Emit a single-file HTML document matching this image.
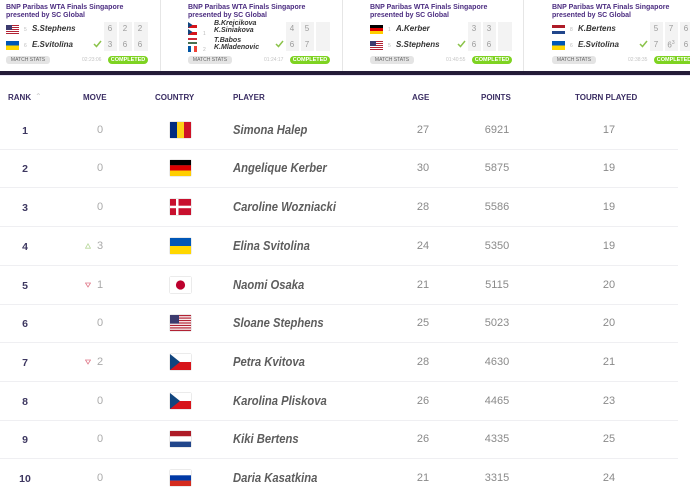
<!DOCTYPE html>
<html><head><meta charset="utf-8">
<style>
*{margin:0;padding:0;box-sizing:border-box}
body{width:690px;height:490px;overflow:hidden;background:#fff;font-family:"Liberation Sans",Arial,sans-serif;position:relative}
.a{position:absolute;white-space:nowrap}
.card{position:absolute;top:0;height:71px;width:182px}
.ttl{position:absolute;left:0;top:4px;font-size:7px;line-height:8px;font-weight:bold;color:#4b2c80;white-space:nowrap}
.fl{position:absolute;left:0;width:13px;height:9px}
.sd{position:absolute;left:18px;font-size:5px;color:#bbb}
.nm{position:absolute;left:26px;font-size:8px;font-weight:bold;font-style:italic;color:#333;white-space:nowrap}
.box{position:absolute;top:22px;height:29px;background:#f3f3f3}
.sc{position:absolute;font-size:8px;color:#9a9a9a;width:14px;text-align:center}
.ms{position:absolute;left:0;top:56px;width:44px;height:8px;background:#e4e4e4;border-radius:3px;font-size:5px;line-height:8px;color:#666;text-align:center}
.tm{position:absolute;left:76px;top:57px;font-size:5px;color:#c4c4c4}
.cp{position:absolute;left:102px;top:56px;width:40px;height:8px;background:#7ed321;border-radius:4px;font-size:5.5px;line-height:8px;color:#fff;font-weight:bold;text-align:center}
.vb{position:absolute;top:0;width:1px;height:71px;background:#e6e6e6}
.hd{position:absolute;top:93px;font-size:8px;font-weight:bold;color:#3a2d63;white-space:nowrap}
.row{position:absolute;left:0;width:690px;height:39px}
.rk{position:absolute;left:10px;width:30px;text-align:center;top:14px;font-size:10.5px;font-weight:bold;color:#3d3760}
.mv{position:absolute;left:94px;width:12px;text-align:center;top:13px;font-size:11px;color:#aaa}
.ar{position:absolute;left:85px;top:16px}
.fg{position:absolute;left:170px;top:11px;width:21px;height:16px;box-shadow:0 0 1px rgba(0,0,0,.4)}
.pn{position:absolute;left:233px;top:12px;font-size:12.5px;font-weight:bold;font-style:italic;color:#5d5d5d;white-space:nowrap;transform:scaleX(.9);transform-origin:left}
.n{position:absolute;top:13px;font-size:11px;color:#8a8a8a;text-align:center;width:40px}
.ln{position:absolute;left:0;bottom:0;width:678px;height:1px;background:#efeff2}
</style></head><body>

<!-- cards -->
<div class="vb" style="left:160px"></div>
<div class="vb" style="left:342px"></div>
<div class="vb" style="left:523px"></div>

<div class="card" style="left:6px">
 <div class="ttl">BNP Paribas WTA Finals Singapore<br>presented by SC Global</div>
 <svg class="fl" style="top:25px" viewBox="0 0 13 9"><rect width="13" height="9" fill="#fff"/><g fill="#b22234"><rect y="0" width="13" height="1"/><rect y="2" width="13" height="1"/><rect y="4" width="13" height="1"/><rect y="6" width="13" height="1"/><rect y="8" width="13" height="1"/></g><rect width="6" height="5" fill="#3c3b6e"/></svg>
 <div class="sd" style="top:27px">5</div><div class="nm" style="top:24px">S.Stephens</div>
 <svg class="fl" style="top:41px" viewBox="0 0 13 9"><rect width="13" height="4.5" fill="#0057b7"/><rect y="4.5" width="13" height="4.5" fill="#ffd700"/></svg>
 <div class="sd" style="top:43px">6</div><div class="nm" style="top:40px">E.Svitolina</div>
 <svg class="a" style="left:87px;top:40px" width="9" height="8" viewBox="0 0 9 8"><polyline points="1,4 3.5,6.5 8,1" fill="none" stroke="#8bc34a" stroke-width="1.5"/></svg>
 <div class="box" style="left:98px;width:13px"></div><div class="box" style="left:113px;width:13px"></div><div class="box" style="left:128px;width:14px"></div>
 <div class="sc" style="left:97px;top:24px">6</div><div class="sc" style="left:112px;top:24px">2</div><div class="sc" style="left:127px;top:24px">2</div>
 <div class="sc" style="left:97px;top:40px">3</div><div class="sc" style="left:112px;top:40px">6</div><div class="sc" style="left:127px;top:40px">6</div>
 <div class="ms">MATCH STATS</div><div class="tm">02:23:06</div><div class="cp">COMPLETED</div>
</div>

<div class="card" style="left:188px">
 <div class="ttl">BNP Paribas WTA Finals Singapore<br>presented by SC Global</div>
 <svg class="fl" style="top:22px;width:9px;height:6px" viewBox="0 0 9 6"><rect width="9" height="3" fill="#fff"/><rect y="3" width="9" height="3" fill="#d7141a"/><polygon points="0,0 4.5,3 0,6" fill="#11457e"/></svg>
 <svg class="fl" style="top:29px;width:9px;height:6px" viewBox="0 0 9 6"><rect width="9" height="3" fill="#fff"/><rect y="3" width="9" height="3" fill="#d7141a"/><polygon points="0,0 4.5,3 0,6" fill="#11457e"/></svg>
 <svg class="fl" style="top:38px;width:9px;height:6px" viewBox="0 0 9 6"><rect width="9" height="2" fill="#ce2939"/><rect y="2" width="9" height="2" fill="#fff"/><rect y="4" width="9" height="2" fill="#477050"/></svg>
 <svg class="fl" style="top:46px;width:9px;height:6px" viewBox="0 0 9 6"><rect width="3" height="6" fill="#0055a4"/><rect x="3" width="3" height="6" fill="#fff"/><rect x="6" width="3" height="6" fill="#ef4135"/></svg>
 <div class="sd" style="left:15px;top:31px">1</div><div class="sd" style="left:15px;top:47px">2</div>
 <div class="nm" style="left:26px;top:20px;font-size:7px;line-height:7px">B.Krejcikova<br>K.Siniakova</div>
 <div class="nm" style="left:26px;top:37px;font-size:7px;line-height:7px">T.Babos<br>K.Mladenovic</div>
 <svg class="a" style="left:87px;top:40px" width="9" height="8" viewBox="0 0 9 8"><polyline points="1,4 3.5,6.5 8,1" fill="none" stroke="#8bc34a" stroke-width="1.5"/></svg>
 <div class="box" style="left:98px;width:13px"></div><div class="box" style="left:113px;width:13px"></div><div class="box" style="left:128px;width:14px"></div>
 <div class="sc" style="left:97px;top:24px">4</div><div class="sc" style="left:112px;top:24px">5</div>
 <div class="sc" style="left:97px;top:40px">6</div><div class="sc" style="left:112px;top:40px">7</div>
 <div class="ms">MATCH STATS</div><div class="tm">01:24:17</div><div class="cp">COMPLETED</div>
</div>

<div class="card" style="left:370px">
 <div class="ttl">BNP Paribas WTA Finals Singapore<br>presented by SC Global</div>
 <svg class="fl" style="top:25px" viewBox="0 0 13 9"><rect width="13" height="3" fill="#000"/><rect y="3" width="13" height="3" fill="#dd0000"/><rect y="6" width="13" height="3" fill="#ffce00"/></svg>
 <div class="sd" style="top:27px">1</div><div class="nm" style="top:24px">A.Kerber</div>
 <svg class="fl" style="top:41px" viewBox="0 0 13 9"><rect width="13" height="9" fill="#fff"/><g fill="#b22234"><rect y="0" width="13" height="1"/><rect y="2" width="13" height="1"/><rect y="4" width="13" height="1"/><rect y="6" width="13" height="1"/><rect y="8" width="13" height="1"/></g><rect width="6" height="5" fill="#3c3b6e"/></svg>
 <div class="sd" style="top:43px">5</div><div class="nm" style="top:40px">S.Stephens</div>
 <svg class="a" style="left:87px;top:40px" width="9" height="8" viewBox="0 0 9 8"><polyline points="1,4 3.5,6.5 8,1" fill="none" stroke="#8bc34a" stroke-width="1.5"/></svg>
 <div class="box" style="left:98px;width:13px"></div><div class="box" style="left:113px;width:13px"></div><div class="box" style="left:128px;width:14px"></div>
 <div class="sc" style="left:97px;top:24px">3</div><div class="sc" style="left:112px;top:24px">3</div>
 <div class="sc" style="left:97px;top:40px">6</div><div class="sc" style="left:112px;top:40px">6</div>
 <div class="ms">MATCH STATS</div><div class="tm">01:40:55</div><div class="cp">COMPLETED</div>
</div>

<div class="card" style="left:552px">
 <div class="ttl">BNP Paribas WTA Finals Singapore<br>presented by SC Global</div>
 <svg class="fl" style="top:25px" viewBox="0 0 13 9"><rect width="13" height="3" fill="#ae1c28"/><rect y="3" width="13" height="3" fill="#fff"/><rect y="6" width="13" height="3" fill="#21468b"/></svg>
 <div class="sd" style="top:27px">8</div><div class="nm" style="top:24px">K.Bertens</div>
 <svg class="fl" style="top:41px" viewBox="0 0 13 9"><rect width="13" height="4.5" fill="#0057b7"/><rect y="4.5" width="13" height="4.5" fill="#ffd700"/></svg>
 <div class="sd" style="top:43px">6</div><div class="nm" style="top:40px">E.Svitolina</div>
 <svg class="a" style="left:87px;top:40px" width="9" height="8" viewBox="0 0 9 8"><polyline points="1,4 3.5,6.5 8,1" fill="none" stroke="#8bc34a" stroke-width="1.5"/></svg>
 <div class="box" style="left:98px;width:13px"></div><div class="box" style="left:113px;width:13px"></div><div class="box" style="left:128px;width:14px"></div>
 <div class="sc" style="left:97px;top:24px">5</div><div class="sc" style="left:112px;top:24px">7</div><div class="sc" style="left:127px;top:24px">6</div>
 <div class="sc" style="left:97px;top:40px">7</div><div class="sc" style="left:112px;top:40px">6<sup style="font-size:5px">3</sup></div><div class="sc" style="left:127px;top:40px">6</div>
 <div class="ms">MATCH STATS</div><div class="tm">02:38:35</div><div class="cp">COMPLETED</div>
</div>

<div class="a" style="left:0;top:71px;width:690px;height:4px;background:#241c38"></div>
<div class="a" style="left:0;top:75px;width:690px;height:1px;background:#e9e4f4"></div>

<!-- header -->
<div class="hd" style="left:8px">RANK</div>
<div class="hd" style="left:35px;color:#ccc;font-weight:normal;font-size:8px;top:92px">&#8963;</div>
<div class="hd" style="left:83px">MOVE</div>
<div class="hd" style="left:155px">COUNTRY</div>
<div class="hd" style="left:233px">PLAYER</div>
<div class="hd" style="left:412px">AGE</div>
<div class="hd" style="left:481px">POINTS</div>
<div class="hd" style="left:575px">TOURN PLAYED</div>

<!-- rows -->
<div class="row" style="top:110.7px"><div class="rk">1</div><div class="mv">0</div>
<svg class="fg" viewBox="0 0 21 16"><rect width="7" height="16" fill="#002b7f"/><rect x="7" width="7" height="16" fill="#fcd116"/><rect x="14" width="7" height="16" fill="#ce1126"/></svg>
<div class="pn">Simona Halep</div><div class="n" style="left:403px">27</div><div class="n" style="left:477px">6921</div><div class="n" style="left:589px">17</div><div class="ln"></div></div>

<div class="row" style="top:149.4px"><div class="rk">2</div><div class="mv">0</div>
<svg class="fg" viewBox="0 0 21 16"><rect width="21" height="5.4" fill="#000"/><rect y="5.3" width="21" height="5.4" fill="#dd0000"/><rect y="10.6" width="21" height="5.4" fill="#ffce00"/></svg>
<div class="pn">Angelique Kerber</div><div class="n" style="left:403px">30</div><div class="n" style="left:477px">5875</div><div class="n" style="left:589px">19</div><div class="ln"></div></div>

<div class="row" style="top:188.1px"><div class="rk">3</div><div class="mv">0</div>
<svg class="fg" viewBox="0 0 21 16"><rect width="21" height="16" fill="#c8102e"/><rect x="6" width="2.5" height="16" fill="#fff"/><rect y="6.7" width="21" height="2.5" fill="#fff"/></svg>
<div class="pn">Caroline Wozniacki</div><div class="n" style="left:403px">28</div><div class="n" style="left:477px">5586</div><div class="n" style="left:589px">19</div><div class="ln"></div></div>

<div class="row" style="top:226.8px"><div class="rk">4</div>
<svg class="ar" width="6" height="6" viewBox="0 0 6 6"><polygon points="3,0.8 5.5,5.2 0.5,5.2" fill="none" stroke="#b8d89a" stroke-width="0.8"/></svg>
<div class="mv">3</div>
<svg class="fg" viewBox="0 0 21 16"><rect width="21" height="8" fill="#0057b7"/><rect y="8" width="21" height="8" fill="#ffd700"/></svg>
<div class="pn">Elina Svitolina</div><div class="n" style="left:403px">24</div><div class="n" style="left:477px">5350</div><div class="n" style="left:589px">19</div><div class="ln"></div></div>

<div class="row" style="top:265.5px"><div class="rk">5</div>
<svg class="ar" width="6" height="6" viewBox="0 0 6 6"><polygon points="0.5,1 5.5,1 3,5" fill="none" stroke="#e07a8a" stroke-width="0.8"/></svg>
<div class="mv">1</div>
<svg class="fg" viewBox="0 0 21 16"><rect width="21" height="16" fill="#fff"/><circle cx="10.5" cy="8" r="4.6" fill="#bc002d"/></svg>
<div class="pn">Naomi Osaka</div><div class="n" style="left:403px">21</div><div class="n" style="left:477px">5115</div><div class="n" style="left:589px">20</div><div class="ln"></div></div>

<div class="row" style="top:304.2px"><div class="rk">6</div><div class="mv">0</div>
<svg class="fg" viewBox="0 0 21 16"><rect width="21" height="16" fill="#fff"/><g fill="#b22234"><rect y="0" width="21" height="1.23"/><rect y="2.46" width="21" height="1.23"/><rect y="4.92" width="21" height="1.23"/><rect y="7.38" width="21" height="1.23"/><rect y="9.84" width="21" height="1.23"/><rect y="12.3" width="21" height="1.23"/><rect y="14.77" width="21" height="1.23"/></g><rect width="9" height="8.6" fill="#3c3b6e"/></svg>
<div class="pn">Sloane Stephens</div><div class="n" style="left:403px">25</div><div class="n" style="left:477px">5023</div><div class="n" style="left:589px">20</div><div class="ln"></div></div>

<div class="row" style="top:342.9px"><div class="rk">7</div>
<svg class="ar" width="6" height="6" viewBox="0 0 6 6"><polygon points="0.5,1 5.5,1 3,5" fill="none" stroke="#e07a8a" stroke-width="0.8"/></svg>
<div class="mv">2</div>
<svg class="fg" viewBox="0 0 21 16"><rect width="21" height="8" fill="#fff"/><rect y="8" width="21" height="8" fill="#d7141a"/><polygon points="0,0 10,8 0,16" fill="#11457e"/></svg>
<div class="pn">Petra Kvitova</div><div class="n" style="left:403px">28</div><div class="n" style="left:477px">4630</div><div class="n" style="left:589px">21</div><div class="ln"></div></div>

<div class="row" style="top:381.6px"><div class="rk">8</div><div class="mv">0</div>
<svg class="fg" viewBox="0 0 21 16"><rect width="21" height="8" fill="#fff"/><rect y="8" width="21" height="8" fill="#d7141a"/><polygon points="0,0 10,8 0,16" fill="#11457e"/></svg>
<div class="pn">Karolina Pliskova</div><div class="n" style="left:403px">26</div><div class="n" style="left:477px">4465</div><div class="n" style="left:589px">23</div><div class="ln"></div></div>

<div class="row" style="top:420.3px"><div class="rk">9</div><div class="mv">0</div>
<svg class="fg" viewBox="0 0 21 16"><rect width="21" height="5.4" fill="#ae1c28"/><rect y="5.3" width="21" height="5.4" fill="#fff"/><rect y="10.6" width="21" height="5.4" fill="#21468b"/></svg>
<div class="pn">Kiki Bertens</div><div class="n" style="left:403px">26</div><div class="n" style="left:477px">4335</div><div class="n" style="left:589px">25</div><div class="ln"></div></div>

<div class="row" style="top:459px"><div class="rk">10</div><div class="mv">0</div>
<svg class="fg" viewBox="0 0 21 16"><rect width="21" height="5.4" fill="#fff"/><rect y="5.3" width="21" height="5.4" fill="#0039a6"/><rect y="10.6" width="21" height="5.4" fill="#d52b1e"/></svg>
<div class="pn">Daria Kasatkina</div><div class="n" style="left:403px">21</div><div class="n" style="left:477px">3315</div><div class="n" style="left:589px">24</div></div>

</body></html>
